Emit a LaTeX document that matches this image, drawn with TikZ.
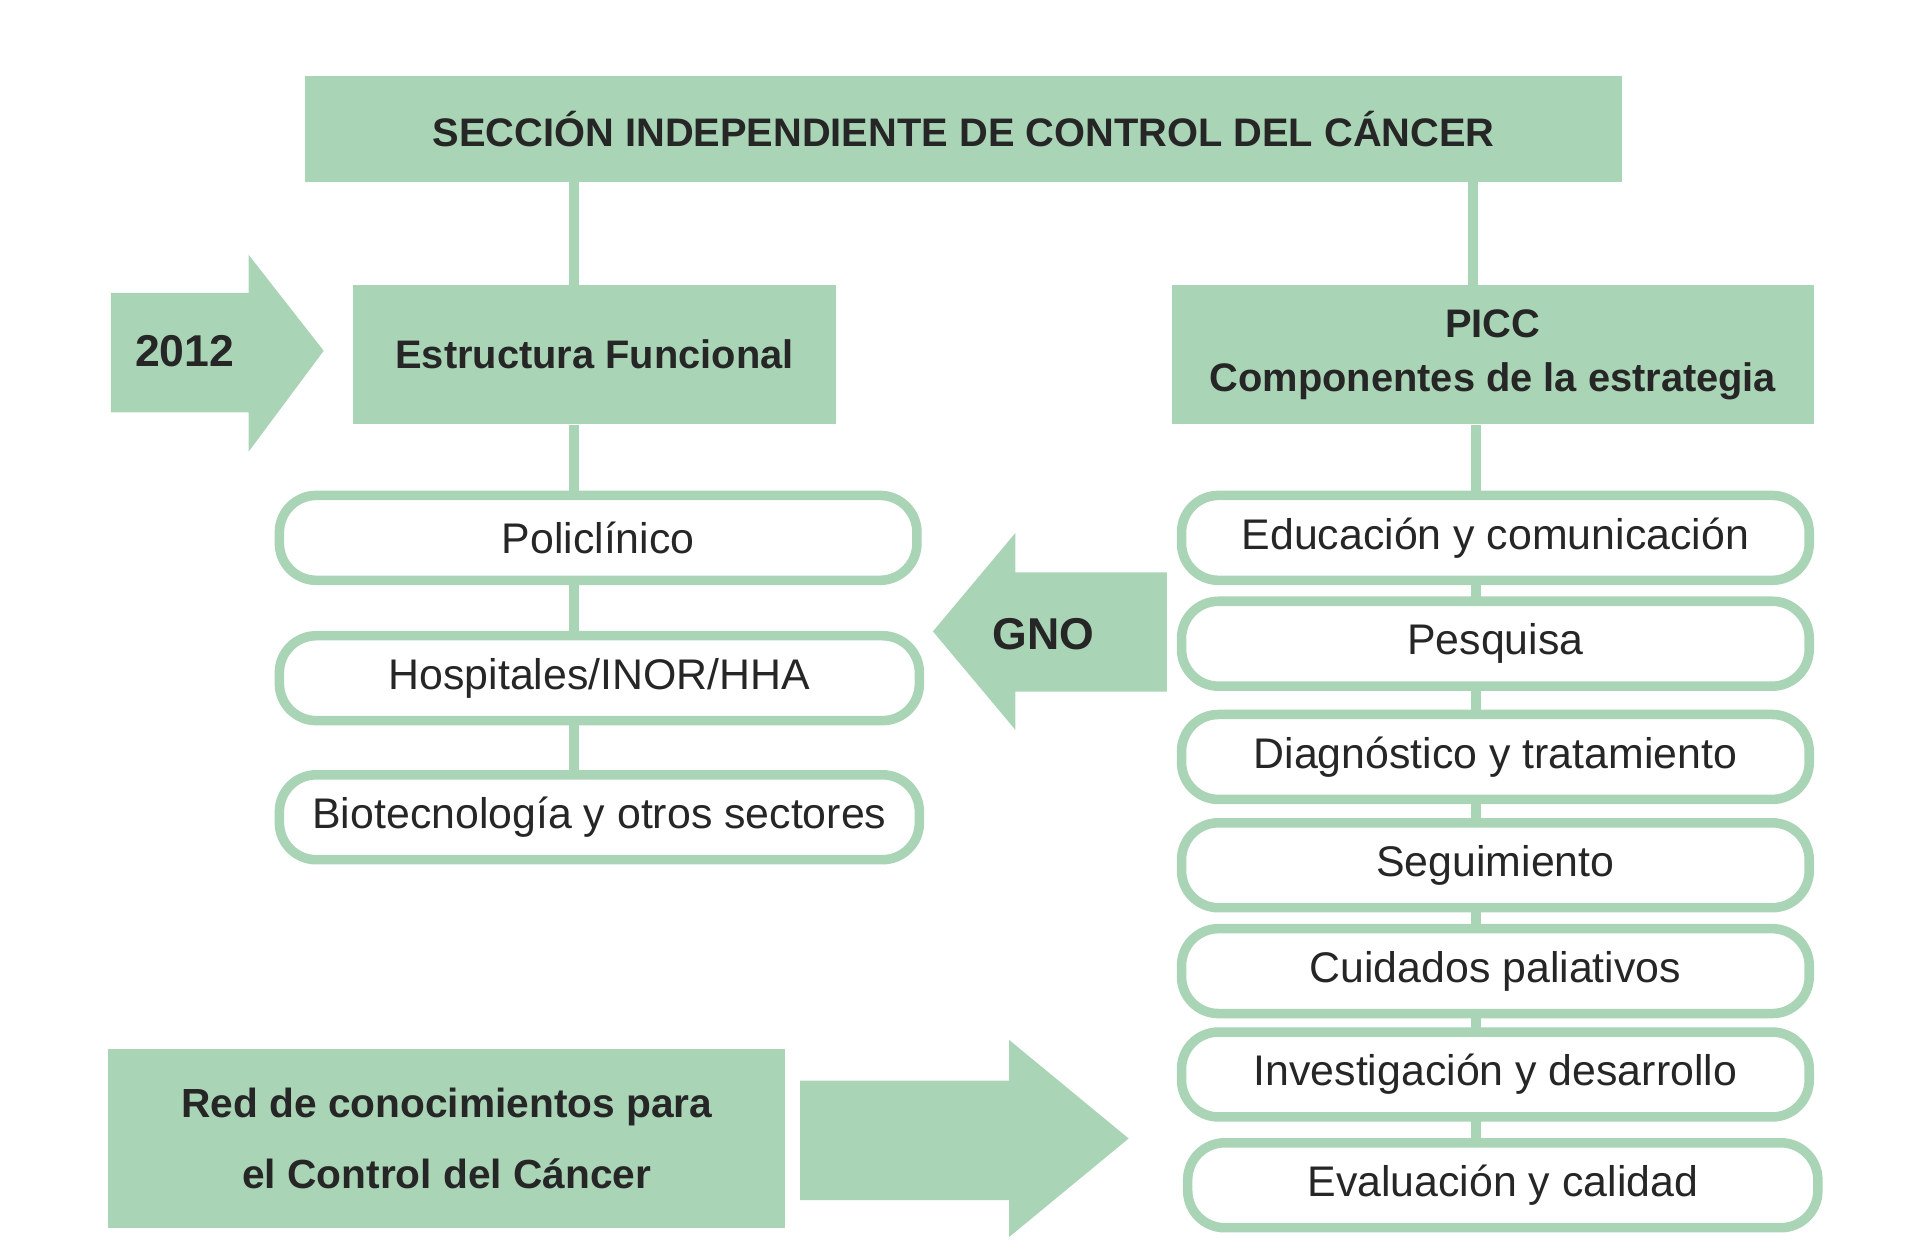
\documentclass[tikz,border=0pt]{standalone}
\usepackage{fontspec}
\setmainfont{Liberation Sans}
\begin{document}
\begin{tikzpicture}[x=0.01cm,y=-0.01cm]
\definecolor{gr}{HTML}{A9D5B6}
\tikzset{
 hdr/.style={fill=gr,draw=none,inner sep=0pt,font=\fontsize{9.2}{12.5}\selectfont\bfseries,text=black!85,align=center},
 rbox/.style={draw=gr,line width=2.2pt,fill=white,rounded corners=0.3cm,inner sep=0pt,font=\fontsize{9.9}{12}\selectfont,text=black!85},
 conn/.style={gr,line width=2.3pt},
 arr/.style={fill=gr,draw=none}
}
\useasboundingbox (0,0) rectangle (1560,1023);
\fill[white] (0,0) rectangle (1560,1023);
% headers
\node[hdr,minimum width=1070*0.01cm,minimum height=86*0.01cm] (title) at (783,105) {SECCIÓN INDEPENDIENTE DE CONTROL DEL CÁNCER};
\node[hdr,minimum width=392*0.01cm,minimum height=113*0.01cm] (ef) at (483,288) {Estructura Funcional};
\node[hdr,minimum width=521*0.01cm,minimum height=113*0.01cm] (picc) at (1213,288) {PICC\\Componentes de la estrategia};
% connectors
\coordinate (lt) at (466,148); \coordinate (rt) at (1197,148);
\coordinate (lb) at (466,627); \coordinate (rb) at (1199,930);
\draw[conn] (lt) -- (466,232);
\draw[conn] (rt) -- (1197,232);
\draw[conn] (466,345) -- (lb);
\draw[conn] (1199,345) -- (rb);
% left boxes
\node[rbox,minimum width=518*0.01cm,minimum height=69*0.01cm] (p1) at (486,437) {Policlínico};
\node[rbox,minimum width=520*0.01cm,minimum height=69*0.01cm] (p2) at (487,551) {Hospitales/INOR/HHA};
\node[rbox,minimum width=520*0.01cm,minimum height=69*0.01cm] (p3) at (487,664) {Biotecnología y otros sectores};
% right boxes
\foreach \n/\y/\t in {r1/437/Educación y comunicación, r2/523/Pesquisa, r3/615/Diagnóstico y tratamiento, r4/703/Seguimiento, r5/789/Cuidados paliativos, r6/873/Investigación y desarrollo}
 \node[rbox,minimum width=510*0.01cm,minimum height=69*0.01cm] (\n) at (1215,\y) {\t};
\node[rbox,minimum width=512*0.01cm,minimum height=69*0.01cm] (r7) at (1221,963) {Evaluación y calidad};
% 2012 arrow
\fill[arr] (90,238) -- (202,238) -- (202,207) -- (263,285) -- (202,367) -- (202,335) -- (90,335) -- cycle;
\node[font=\fontsize{10.3}{12}\selectfont\bfseries,text=black!85] (y2012) at (150,285) {2012};
% GNO arrow
\fill[arr] (948,465) -- (825,465) -- (825,433) -- (758,513) -- (825,593) -- (825,562) -- (948,562) -- cycle;
\node[font=\fontsize{10.3}{12}\selectfont\bfseries,text=black!85] (gno) at (848,515) {GNO};
% Red box
\node[hdr,minimum width=550*0.01cm,minimum height=145*0.01cm,font=\fontsize{9.4}{16.5}\selectfont\bfseries] (red) at (363,925) {Red de conocimientos para\\el Control del Cáncer};
\fill[arr] (650,878) -- (820,878) -- (820,845) -- (917,925) -- (820,1005) -- (820,975) -- (650,975) -- cycle;
\end{tikzpicture}
\end{document}
